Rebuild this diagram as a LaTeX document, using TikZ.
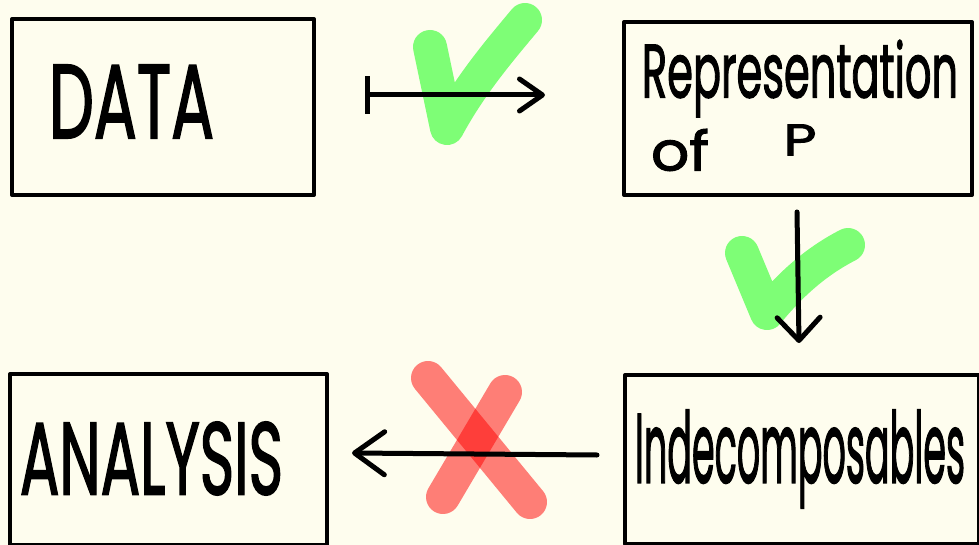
\documentclass[tikz,border=0pt]{standalone}
\usepackage{fontspec}
\setmainfont{Poppins}[FakeBold=2]
\usepackage{graphicx}
\usetikzlibrary{arrows.meta}
\definecolor{bg}{RGB}{254,253,238}
\begin{document}
\begin{tikzpicture}[x=1pt,y=-1pt,
  box/.style={draw=black,line width=4pt,line join=round,inner sep=0pt,anchor=north west},
  lbl/.style={inner sep=0pt,outer sep=0pt},
  arr/.style={line width=5pt,line cap=round,line join=round},
  okmark/.style={draw=green,draw opacity=0.5,line width=34pt,line cap=round,line join=round},
  nomark/.style={draw=red,draw opacity=0.5,line width=34pt,line cap=round,line join=round}]
\fill[bg] (0,0) rectangle (979,545);
\useasboundingbox (0,0) rectangle (979,545);
% boxes
\node[box,minimum width=302pt,minimum height=176pt] (data) at (10,17) {};
\node[box,minimum width=348pt,minimum height=173pt] (rep) at (622,20) {};
\node[box,minimum width=317pt,minimum height=171pt] (ana) at (8,372) {};
\node[box,minimum width=354pt,minimum height=169pt] (ind) at (623,373) {};
% texts
\node[lbl] (tdata) at (131.5,101.5) {\resizebox*{165pt}{73pt}{DATA}};
\node[lbl] (trep) at (800,78.5) {\resizebox*{316pt}{77pt}{Representation}};
\node[lbl] (tof) at (680,150) {\resizebox*{58pt}{42pt}{of}};
\node[lbl] (tp) at (800,140) {\resizebox*{33pt}{31pt}{P}};
\node[lbl] (tana) at (151.5,458.5) {\resizebox*{263pt}{73pt}{ANALYSIS}};
\node[lbl] (tind) at (800,459) {\resizebox*{330pt}{98pt}{Indecomposables}};
% marks
\draw[okmark] (430,47) -- (447,128) .. controls (470,85) and (500,50) .. (525,20);
\draw[okmark] (742,253) -- (767,313) .. controls (790,285) and (815,262) .. (848,245);
\draw[nomark] (428,378) -- (530,502);
\draw[nomark] (505,392) -- (443,497);
% arrow end points
\coordinate (a1s) at (365,95);
\coordinate (a1e) at (545,95);
\coordinate (a2s) at (797,212);
\coordinate (a2e) at (799,343);
\coordinate (a3s) at (597,455);
\coordinate (a3e) at (352,453);
\draw[arr,{Bar[width=38pt]}-{Straight Barb[length=23pt,width=32pt,round]}] (a1s) -- (a1e);
\draw[arr,-{Straight Barb[length=23pt,width=43pt,round]}] (a2s) -- (a2e);
\draw[arr,-{Straight Barb[length=30pt,width=43pt,round]}] (a3s) -- (a3e);
\end{tikzpicture}
\end{document}
